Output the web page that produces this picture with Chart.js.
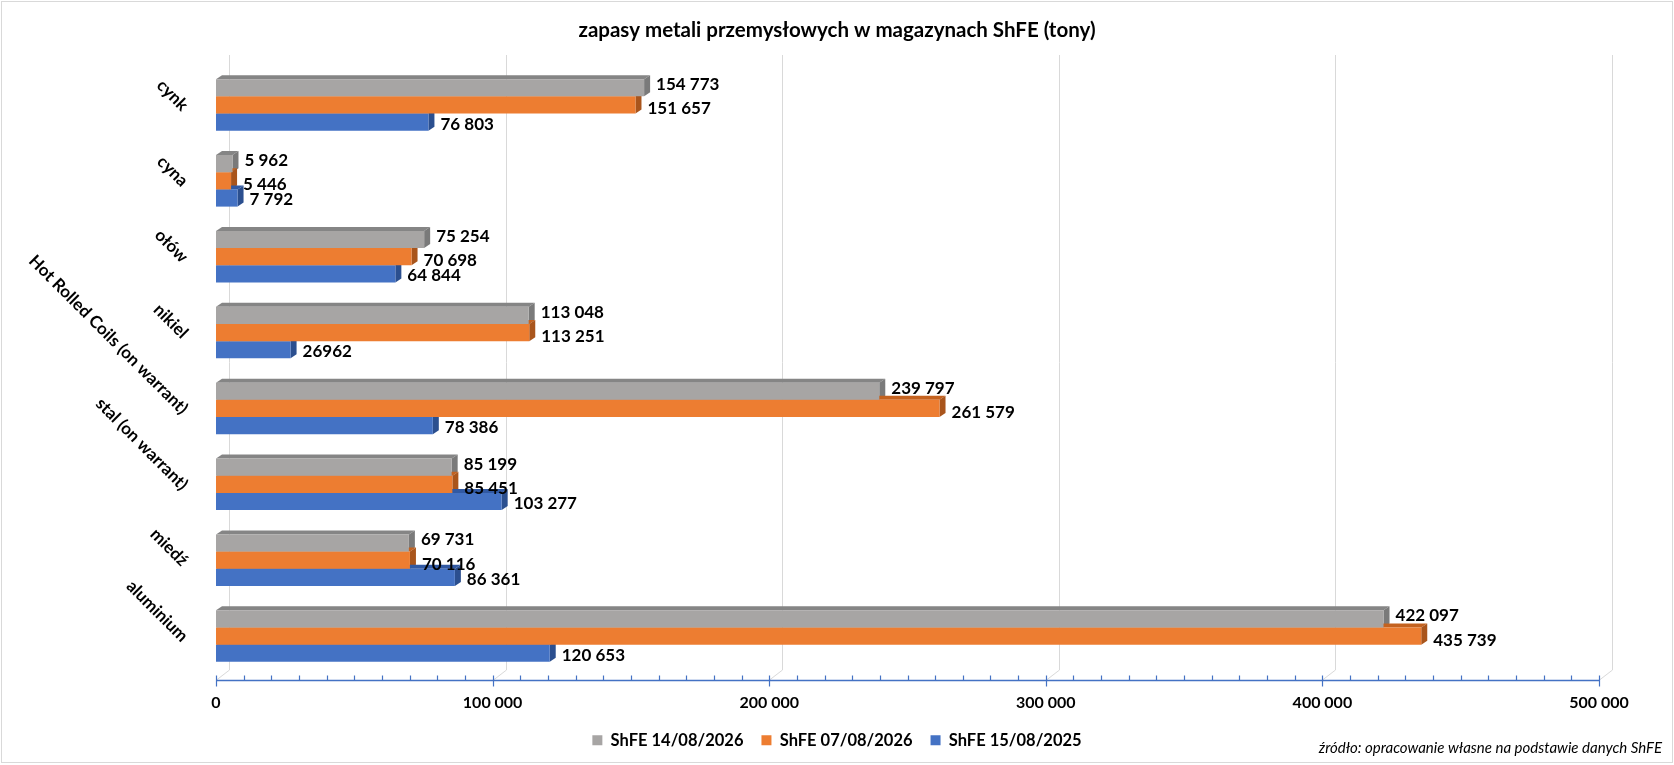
<!DOCTYPE html>
<html>
<head>
<meta charset="utf-8">
<script src="https://cdn.jsdelivr.net/npm/chart.js@4.4.1/dist/chart.umd.min.js"></script>
<style>
  html, body { margin: 0; padding: 0; background: #fff; }
  #wrap { width: 1674px; height: 765px; }
</style>
</head>
<body>
<div id="wrap"><canvas id="chart" width="1674" height="765"></canvas></div>
<script>
// chart data
const categories = ['cynk', 'cyna', 'ołów', 'nikiel', 'Hot Rolled Coils (on warrant)', 'stal (on warrant)', 'miedź', 'aluminium'];
const seriesNames = ['ShFE 14/08/2026', 'ShFE 07/08/2026', 'ShFE 15/08/2025'];
const stock14082026 = [154773, 5962, 75254, 113048, 239797, 85199, 69731, 422097];
const stock07082026 = [151657, 5446, 70698, 113251, 261579, 85451, 70116, 435739];
const stock15082025 = [76803, 7792, 64844, 26962, 78386, 103277, 86361, 120653];
const xTicks = [0, 100000, 200000, 300000, 400000, 500000];
const ungroupedLabels = [26962]; // this one is shown without a thousands space
const chartTitle = 'zapasy metali przemysłowych w magazynach ShFE (tony)';
const sourceNote = 'źródło: opracowanie własne na podstawie danych ShFE';

// look
const FONT = 'Lato';
const faceColors = ['#A7A5A4', '#ED7D31', '#4472C4'];
const topColors = ['#858585', '#C4621F', '#3159A3'];
const sideColors = ['#7A7A7A', '#A9551C', '#2B4F8F'];
const labelShiftY = [-3, 4, 2];
const DEPTH_X = 6, DEPTH_Y = 4;       // bar depth
const WALL_X = 13, WALL_Y = 10;       // back wall offset for the grid

function fmt(v) {
  if (ungroupedLabels.includes(v)) return String(v);
  return String(v).replace(/\B(?=(\d{3})+(?!\d))/g, ' ');
}

const excel3d = {
  id: 'excel3d',
  beforeDraw(chart) {
    const ctx = chart.ctx;
    ctx.save();
    ctx.fillStyle = '#fff';
    ctx.fillRect(0, 0, chart.width, chart.height);
    ctx.strokeStyle = '#d9d9d9';
    ctx.lineWidth = 1;
    ctx.strokeRect(1.5, 1.5, chart.width - 3, chart.height - 4);
    ctx.restore();
  },
  beforeDatasetsDraw(chart) {
    const ctx = chart.ctx;
    const xs = chart.scales.x;
    const area = chart.chartArea;
    const axisY = area.bottom + 6;
    ctx.save();
    // back wall gridlines
    ctx.strokeStyle = '#d9d9d9';
    ctx.lineWidth = 1;
    xTicks.forEach(v => {
      const x = Math.round(xs.getPixelForValue(v)) + 0.5;
      ctx.beginPath();
      ctx.moveTo(x + WALL_X, area.top - 12);
      ctx.lineTo(x + WALL_X, axisY - WALL_Y);
      ctx.lineTo(x, axisY);
      ctx.stroke();
    });
    // bar depth: top and right faces, drawn under the front faces
    chart.data.datasets.forEach((ds, di) => {
      const meta = chart.getDatasetMeta(di);
      meta.data.forEach(bar => {
        const top = bar.y - bar.height / 2;
        const bottom = bar.y + bar.height / 2;
        const left = bar.base;
        const right = bar.x;
        ctx.fillStyle = topColors[di];
        ctx.beginPath();
        ctx.moveTo(left, top);
        ctx.lineTo(right, top);
        ctx.lineTo(right + DEPTH_X, top - DEPTH_Y);
        ctx.lineTo(left + DEPTH_X, top - DEPTH_Y);
        ctx.closePath();
        ctx.fill();
        ctx.fillStyle = sideColors[di];
        ctx.beginPath();
        ctx.moveTo(right, top);
        ctx.lineTo(right + DEPTH_X, top - DEPTH_Y);
        ctx.lineTo(right + DEPTH_X, bottom - DEPTH_Y);
        ctx.lineTo(right, bottom);
        ctx.closePath();
        ctx.fill();
      });
    });
    ctx.restore();
  },
  afterDatasetsDraw(chart) {
    const ctx = chart.ctx;
    ctx.save();
    ctx.font = 'bold 17px ' + FONT;
    ctx.fillStyle = '#000';
    ctx.textAlign = 'left';
    ctx.textBaseline = 'middle';
    chart.data.datasets.forEach((ds, di) => {
      const meta = chart.getDatasetMeta(di);
      meta.data.forEach((bar, i) => {
        ctx.fillText(fmt(ds.data[i]), bar.x + DEPTH_X + 6, bar.y + labelShiftY[di]);
      });
    });
    ctx.restore();
  },
  afterDraw(chart) {
    const ctx = chart.ctx;
    const xs = chart.scales.x;
    const area = chart.chartArea;
    const axisY = area.bottom + 6.5;
    ctx.save();
    ctx.strokeStyle = '#4472C4';
    ctx.lineWidth = 1.5;
    ctx.beginPath();
    ctx.moveTo(xs.getPixelForValue(0), axisY);
    ctx.lineTo(xs.getPixelForValue(500000), axisY);
    ctx.stroke();
    ctx.lineWidth = 1.2;
    for (let v = 0; v <= 500000; v += 10000) {
      const x = Math.round(xs.getPixelForValue(v)) + 0.5;
      ctx.beginPath();
      if (v % 100000 === 0) {
        ctx.moveTo(x, axisY - 5);
        ctx.lineTo(x, axisY + 6);
      } else {
        ctx.moveTo(x, axisY - 5);
        ctx.lineTo(x, axisY);
      }
      ctx.stroke();
    }
    // source note
    ctx.font = 'italic 15px ' + FONT;
    ctx.fillStyle = '#000';
    ctx.textAlign = 'right';
    ctx.textBaseline = 'middle';
    ctx.fillText(sourceNote, 1662, 748);
    ctx.restore();
  }
};

function draw() {
  new Chart(document.getElementById('chart'), {
    type: 'bar',
    data: {
      labels: categories,
      datasets: [
        { label: seriesNames[0], data: stock14082026, backgroundColor: faceColors[0] },
        { label: seriesNames[1], data: stock07082026, backgroundColor: faceColors[1] },
        { label: seriesNames[2], data: stock15082025, backgroundColor: faceColors[2] }
      ]
    },
    options: {
      responsive: false,
      animation: false,
      indexAxis: 'y',
      layout: { padding: { left: 0, right: 0, top: 0, bottom: 6.5 } },
      datasets: { bar: { categoryPercentage: 0.68, barPercentage: 1.0, borderWidth: 0 } },
      plugins: {
        title: {
          display: true,
          text: chartTitle,
          color: '#000',
          font: { family: FONT, size: 20.5, weight: 'bold' },
          padding: { top: 18, bottom: 24.4 }
        },
        legend: {
          position: 'bottom',
          labels: {
            color: '#000',
            font: { family: FONT, size: 16.5, weight: 'bold' },
            boxWidth: 10,
            boxHeight: 10,
            padding: 18
          }
        },
        tooltip: { enabled: false }
      },
      scales: {
        x: {
          type: 'linear',
          min: 0,
          max: 500000,
          afterBuildTicks: s => { s.ticks = xTicks.map(v => ({ value: v })); },
          grid: { display: false, drawTicks: false },
          border: { display: false },
          ticks: {
            padding: 19.4,
            color: '#000',
            font: { family: FONT, size: 16, weight: 'bold' },
            callback: v => fmt(v)
          },
          afterFit: s => { s.height = 40; }
        },
        y: {
          grid: { display: false, drawTicks: false },
          border: { display: false },
          ticks: {
            minRotation: -45,
            autoSkip: false,
            padding: 31,
            labelOffset: 3,
            color: '#000',
            font: { family: FONT, size: 17, weight: 'bold' }
          },
          afterFit: s => { s.width = 216; }
        },
        // empty right-hand strip so the plot ends at 500 000 while title and legend stay centred
        yRight: {
          type: 'category',
          axis: 'y',
          position: 'right',
          grid: { display: false, drawTicks: false },
          border: { display: false },
          ticks: { display: false },
          afterFit: s => { s.width = 75; }
        }
      }
    },
    plugins: [excel3d]
  });
}

document.fonts.load('bold 16px Lato').then(draw, draw);
</script>
</body>
</html>
